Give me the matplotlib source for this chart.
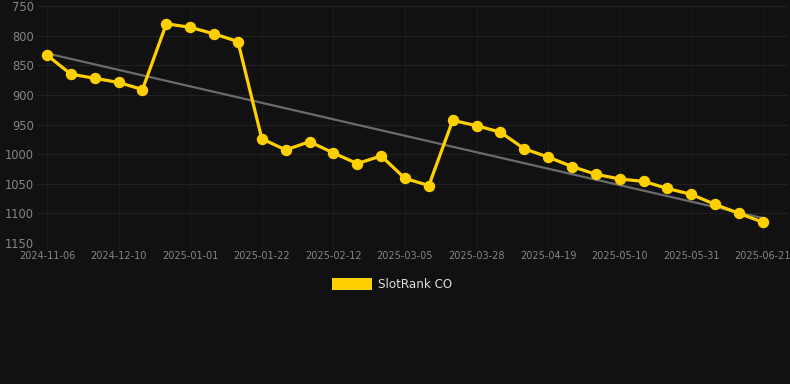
import matplotlib
matplotlib.use("Agg")
import matplotlib.pyplot as plt
from matplotlib.patches import Rectangle

tick_labels = ["2024-11-06", "2024-12-10", "2025-01-01", "2025-01-22", "2025-02-12",
               "2025-03-05", "2025-03-28", "2025-04-19", "2025-05-10", "2025-05-31",
               "2025-06-21"]
ranks = [833, 865, 872, 879, 891, 780, 786, 797, 810, 974,
         993, 979, 998, 1016, 1003, 1041, 1053, 943, 952, 963,
         991, 1005, 1021, 1034, 1042, 1046, 1058, 1068, 1085, 1100,
         1115]
trend_ends = [830, 1108]
y_ticks = [750, 800, 850, 900, 950, 1000, 1050, 1100, 1150]
series_name = "SlotRank CO"

BG = "#111111"
GOLD = "#FFD000"

fig = plt.figure(figsize=(7.9, 3.84), dpi=100, facecolor=BG)
ax = fig.add_axes([37/790, (384-243)/384, (788-37)/790, (243-6)/384], facecolor=BG)

x = list(range(len(ranks)))
ax.plot([x[0], x[-1]], trend_ends, color="#6b6b6b", lw=1.6, zorder=2)
ax.plot(x, ranks, color=GOLD, lw=2.3, marker="o", markersize=7.2,
        markerfacecolor=GOLD, markeredgecolor=GOLD, zorder=3)

ax.set_ylim(1150, 750)
ax.set_xlim(-0.42, 31.05)
ax.set_yticks(y_ticks)
ax.set_yticklabels([str(v) for v in y_ticks])
ax.set_xticks(list(range(0, len(ranks), 3)))
ax.set_xticklabels(tick_labels)

ax.grid(True, axis="y", color="#212121", lw=0.8)
ax.grid(True, axis="x", color="#1b1b1b", lw=0.8)
ax.set_axisbelow(True)
for s in ax.spines.values():
    s.set_visible(False)
ax.tick_params(axis="y", length=0, pad=2, labelsize=8.3, labelcolor="#858585")
ax.tick_params(axis="x", length=4, color="#1b1b1b", pad=2, labelsize=7, labelcolor="#858585")

fig.patches.append(Rectangle((332/790, 1-290/384), 40/790, 12/384,
                             transform=fig.transFigure, facecolor=GOLD, edgecolor="none"))
fig.text(378/790, 1-284/384, series_name, color="#dddddd", fontsize=8.6, va="center", ha="left")

fig.savefig("out.png", dpi=100, facecolor=BG)
